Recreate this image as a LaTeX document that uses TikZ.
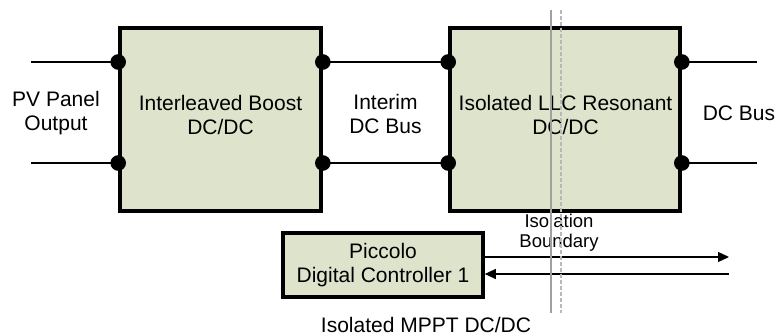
\documentclass[tikz,border=0pt]{standalone}
\usepackage{fontspec}
\setmainfont{Liberation Sans}
\usetikzlibrary{arrows.meta}
\definecolor{boxfill}{RGB}{222,227,204}
\definecolor{isogray}{RGB}{160,160,160}
\definecolor{isolight}{RGB}{185,185,185}
\begin{document}
\begin{tikzpicture}[x=1pt,y=-1pt,
  blockbox/.style={draw=black,line width=3.6pt,fill=boxfill,inner sep=0pt},
  ctrlbox/.style={draw=black,line width=3.6pt,fill=boxfill,inner sep=0pt,align=center,
    font=\fontsize{21}{24}\selectfont},
  label/.style={inner sep=0pt,align=center,font=\fontsize{21}{24}\selectfont},
  wire/.style={line width=1.2pt,draw=black},
  sig/.style={line width=1.2pt,draw=black,-{Triangle[length=11pt,width=10pt]}},
  pin/.style={fill=black,draw=none},
  isosolid/.style={line width=1.4pt,draw=isogray},
  isodash/.style={line width=1.2pt,draw=isolight,dash pattern=on 4pt off 2pt}]
\useasboundingbox (0,0) rectangle (778,336);
% blocks
\node[blockbox,minimum width=201pt,minimum height=183pt] (b1) at (220.5,119.5) {};
\node[blockbox,minimum width=230pt,minimum height=183pt] (b2) at (565,119.5) {};
\node[ctrlbox,minimum width=200pt,minimum height=64pt] (ctrl) at (383,265) {Piccolo\\Digital Controller 1};
\node[label] (b1text) at (220.5,115) {Interleaved Boost\\DC/DC};
\node[label] (b2text) at (565.5,115) {Isolated LLC Resonant\\DC/DC};
% wire end coordinates
\coordinate (inT) at (31,62);
\coordinate (inB) at (31,163);
\coordinate (outT) at (757,62);
\coordinate (outB) at (757,163);
% wires
\draw[wire] (inT) -- (b1.west |- inT);
\draw[wire] (inB) -- (b1.west |- inB);
\draw[wire] (b1.east |- inT) -- (b2.west |- inT);
\draw[wire] (b1.east |- inB) -- (b2.west |- inB);
\draw[wire] (b2.east |- outT) -- (outT);
\draw[wire] (b2.east |- outB) -- (outB);
% pins
\foreach \p in {b1.west,b1.east,b2.west,b2.east}{
  \fill[pin] (\p |- inT) circle (7.8pt);
  \fill[pin] (\p |- inB) circle (7.8pt);
}
% labels
\node[label] (pv) at (56,113) {PV Panel\\Output};
\node[label] (interim) at (385.5,114) {Interim\\DC Bus};
\node[label] (dcbus) at (739,113) {DC Bus};
\node[label,font=\fontsize{18.5}{20}\selectfont] (iso) at (559,233) {Isolation\\Boundary};
\node[inner sep=0pt,anchor=base,font=\fontsize{21}{24}\selectfont] (mppt) at (426,332) {Isolated MPPT DC/DC};
% signals
\coordinate (sigTend) at (729,257);
\coordinate (sigBstart) at (729,274);
\draw[sig] (ctrl.east |- sigTend) -- (sigTend);
\draw[sig] (sigBstart) -- (ctrl.east |- sigBstart);
% isolation boundary
\coordinate (isoAtop) at (551,10);
\coordinate (isoAbot) at (551,313);
\coordinate (isoBtop) at (561,10);
\coordinate (isoBbot) at (561,313);
\draw[isosolid] (isoAtop) -- (isoAbot);
\draw[isodash] (isoBtop) -- (isoBbot);
\end{tikzpicture}
\end{document}
